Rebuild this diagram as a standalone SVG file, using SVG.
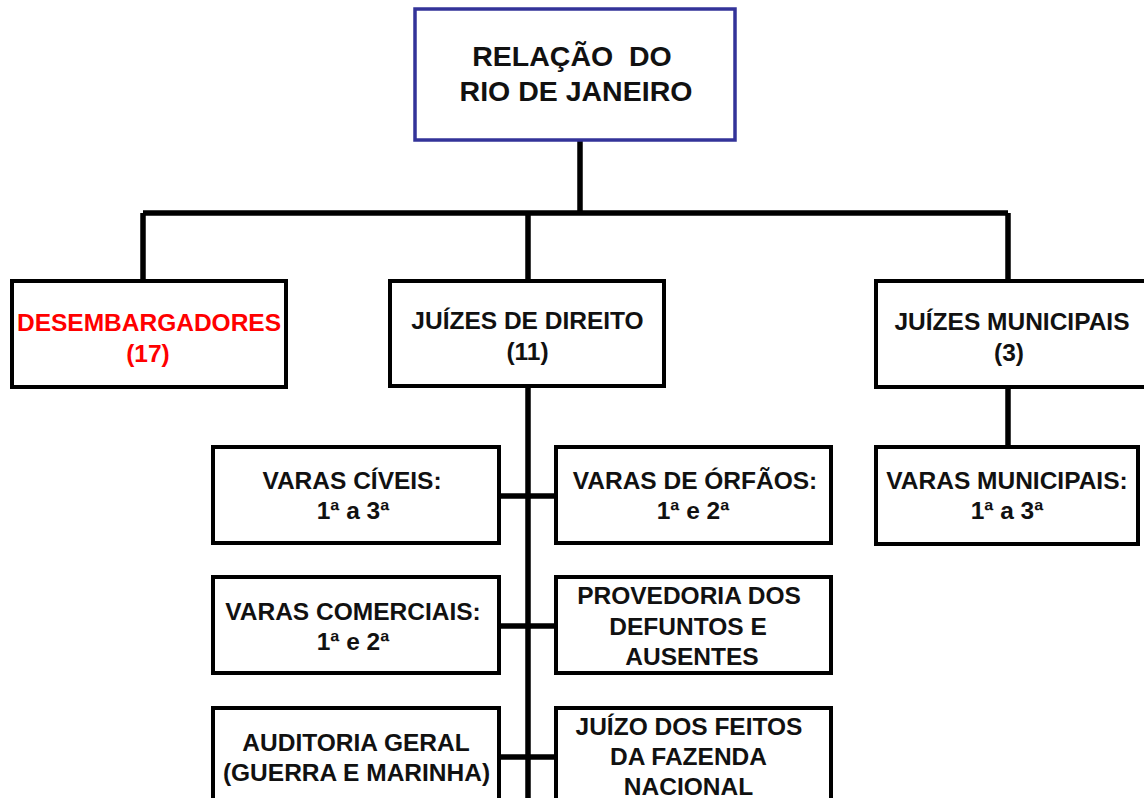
<svg xmlns="http://www.w3.org/2000/svg" width="1144" height="798" viewBox="0 0 1144 798">
<style>
.box{fill:#fff;stroke:#000;stroke-width:4}
.top{fill:#fff;stroke:#333399;stroke-width:3.5}
.t{font-family:"Liberation Sans",Arial,sans-serif;font-weight:bold;font-size:24.5px;fill:#111;text-anchor:middle}
.big{font-size:28.5px}
.red{fill:#ff0000}
.c{stroke:#000;stroke-width:5.5;fill:none}
</style>
<rect width="1144" height="798" fill="#fff"/>
<g id="connectors">
<path class="c" d="M580 140V213M143 213H1008M143 213V281M528 213V281M1008 213V281"/>
<path class="c" d="M1008 387V447"/>
<path class="c" d="M528 387V798M500 496H556M500 626H556M500 757H556"/>
</g>
<g id="relacao">
<rect class="top" x="415" y="9" width="320" height="131"/>
<text class="t big" x="572" y="66" xml:space="preserve">RELAÇÃO  DO</text>
<text class="t big" x="576" y="101">RIO DE JANEIRO</text>
</g>
<g id="desembargadores">
<rect class="box" x="12" y="281" width="274" height="106"/>
<text class="t red" x="149" y="331">DESEMBARGADORES</text>
<text class="t red" x="148" y="362">(17)</text>
</g>
<g id="juizes-direito">
<rect class="box" x="390" y="281" width="274" height="105"/>
<text class="t" x="527.5" y="329">JUÍZES DE DIREITO</text>
<text class="t" x="527.5" y="360">(11)</text>
</g>
<g id="juizes-municipais">
<rect class="box" x="876" y="281" width="274" height="106"/>
<text class="t" x="1012" y="330">JUÍZES MUNICIPAIS</text>
<text class="t" x="1009" y="361">(3)</text>
</g>
<g id="varas-municipais">
<rect class="box" x="876" y="447" width="262" height="97"/>
<text class="t" x="1007" y="489">VARAS MUNICIPAIS:</text>
<text class="t" x="1007" y="519">1ª a 3ª</text>
</g>
<g id="varas-civeis">
<rect class="box" x="213" y="447" width="286" height="96"/>
<text class="t" x="352" y="489">VARAS CÍVEIS:</text>
<text class="t" x="353" y="519">1ª a 3ª</text>
</g>
<g id="varas-orfaos">
<rect class="box" x="556" y="447" width="275" height="96"/>
<text class="t" x="695" y="489">VARAS DE ÓRFÃOS:</text>
<text class="t" x="693" y="519">1ª e 2ª</text>
</g>
<g id="varas-comerciais">
<rect class="box" x="213" y="577" width="286" height="96"/>
<text class="t" x="353" y="620">VARAS COMERCIAIS:</text>
<text class="t" x="353" y="650">1ª e 2ª</text>
</g>
<g id="provedoria">
<rect class="box" x="556" y="577" width="275" height="96"/>
<text class="t" x="689" y="604">PROVEDORIA DOS</text>
<text class="t" x="688" y="635">DEFUNTOS E</text>
<text class="t" x="692" y="665">AUSENTES</text>
</g>
<g id="auditoria">
<rect class="box" x="213" y="708" width="286" height="100"/>
<text class="t" x="356" y="751">AUDITORIA GERAL</text>
<text class="t" x="356.5" y="781">(GUERRA E MARINHA)</text>
</g>
<g id="juizo-feitos">
<rect class="box" x="556" y="708" width="275" height="100"/>
<text class="t" x="689" y="735">JUÍZO DOS FEITOS</text>
<text class="t" x="688.5" y="765">DA FAZENDA</text>
<text class="t" x="688.5" y="795">NACIONAL</text>
</g>
</svg>
